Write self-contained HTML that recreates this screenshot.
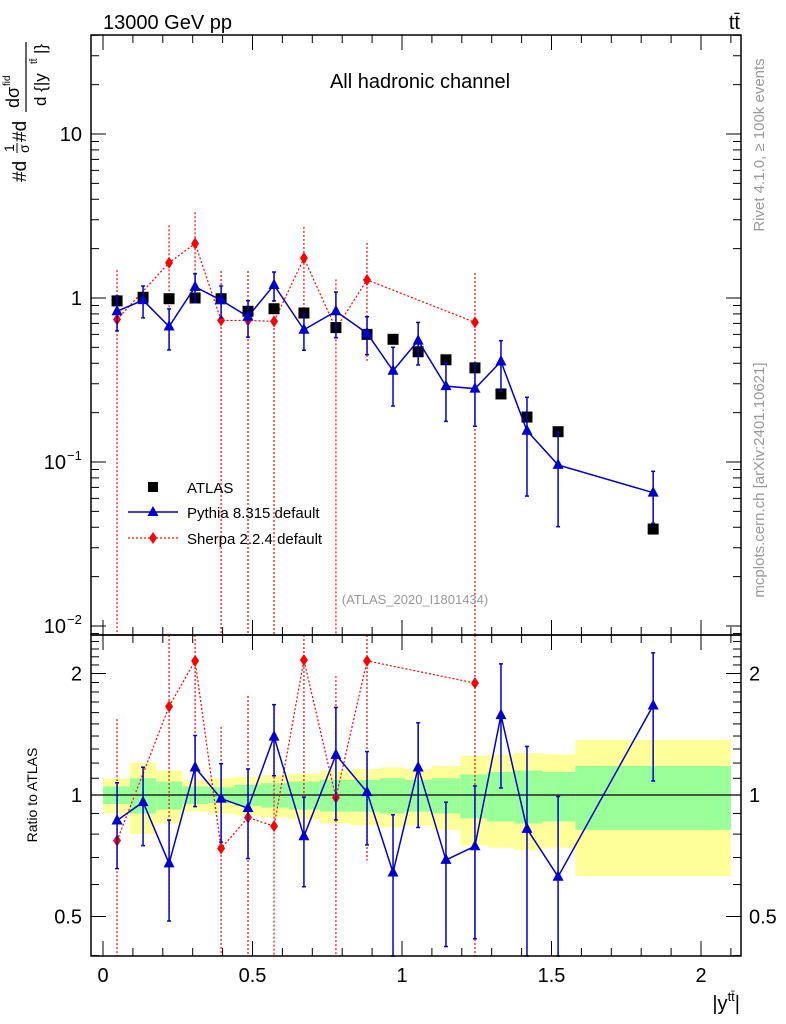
<!DOCTYPE html>
<html><head><meta charset="utf-8"><style>
html,body{margin:0;padding:0;background:#fff;}
svg{display:block;font-family:"Liberation Sans",sans-serif;}
</style></head><body>
<svg id="c" width="786" height="1024" viewBox="0 0 786 1024" xmlns="http://www.w3.org/2000/svg">
<g id="bands"></g>
<g id="marks"></g>
<g id="axes"></g>
<text x="103" y="29" font-size="20">13000 GeV pp</text>
<text x="740" y="29" font-size="20" text-anchor="end">tt̄</text>
<text x="420" y="88" font-size="20" text-anchor="middle">All hadronic channel</text>
<text x="415" y="604" font-size="13" fill="#999" text-anchor="middle">(ATLAS_2020_I1801434)</text>
<text transform="translate(764,145) rotate(-90)" font-size="15" fill="#999" text-anchor="middle">Rivet 4.1.0, ≥ 100k events</text>
<text transform="translate(764,480) rotate(-90)" font-size="15" fill="#999" text-anchor="middle">mcplots.cern.ch [arXiv:2401.10621]</text>
<g transform="translate(0,182) rotate(-90)">
<text x="0" y="26" font-size="19">#d</text>
<text x="30" y="14" font-size="14">1</text>
<line x1="29" y1="17" x2="39" y2="17" stroke="#000" stroke-width="1"/>
<text x="29" y="29" font-size="14">σ</text>
<text x="40" y="26" font-size="19">#d</text>
<text x="74" y="19" font-size="18">dσ</text>
<text x="96" y="10" font-size="10">fid</text>
<line x1="70" y1="26" x2="140" y2="26" stroke="#000" stroke-width="1.2"/>
<text x="76" y="46" font-size="17">d {|y</text>
<text x="118" y="37" font-size="10">tt̄</text>
<text x="128" y="46" font-size="17">|}</text>
</g>
<text transform="translate(37,795) rotate(-90)" font-size="14" text-anchor="middle">Ratio to ATLAS</text>
<text x="740" y="1010" font-size="20" text-anchor="end">|y<tspan font-size="13" dy="-9">tt̄</tspan><tspan dy="9">|</tspan></text>
<g>
<rect x="148" y="482" width="10" height="10" fill="#000"/>
<text x="187" y="493" font-size="15">ATLAS</text>
<line x1="128" y1="512" x2="178" y2="512" stroke="#00c" stroke-width="1.5"/>
<polygon points="153,506 147.5,516 158.5,516" fill="#00c"/>
<text x="187" y="518" font-size="15">Pythia 8.315 default</text>
<line x1="128" y1="538" x2="178" y2="538" stroke="#f00" stroke-width="1.2" stroke-dasharray="2,2"/>
<polygon points="153,532 157,538 153,544 149,538" fill="#f00"/>
<text x="187" y="544" font-size="15">Sherpa 2.2.4 default</text>
</g>
</svg>
<script>
const binEdges=[0,0.09,0.178,0.265,0.352,0.44,0.53,0.62,0.725,0.83,0.925,1.01,1.10,1.195,1.285,1.375,1.47,1.58,2.1];
const atlasX=[0.047,0.134,0.221,0.308,0.395,0.485,0.572,0.672,0.779,0.883,0.970,1.054,1.147,1.244,1.331,1.418,1.522,1.84];
const atlasY=[0.96,1.01,0.99,1.0,0.99,0.83,0.86,0.81,0.66,0.60,0.56,0.47,0.42,0.375,0.26,0.188,0.153,0.039];
const bandYellow=[0.10,0.20,0.15,0.09,0.10,0.11,0.12,0.13,0.15,0.16,0.17,0.16,0.18,0.25,0.26,0.27,0.26,0.37];
const bandGreen=[0.05,0.10,0.08,0.05,0.045,0.06,0.07,0.08,0.09,0.09,0.10,0.09,0.10,0.125,0.14,0.15,0.14,0.18];
const pythiaY=[0.83,0.97,0.67,1.17,0.97,0.77,1.2,0.64,0.83,0.61,0.36,0.55,0.29,0.28,0.41,0.155,0.096,0.065];
const pythiaErr=[0.24,0.22,0.28,0.20,0.22,0.25,0.20,0.25,0.31,0.26,0.39,0.29,0.39,0.41,0.34,0.6,0.58,0.35];
const sherpaIdx=[0,2,3,4,5,6,7,8,9,13];
const sherpaY=[0.74,1.64,2.15,0.73,0.73,0.72,1.75,0.65,1.29,0.71];
const sherpaErr=[1.0,0.69,0.55,1.0,1.0,1.0,0.55,1.0,0.68,1.0];
const xTicks=[0,0.5,1,1.5,2];
const xTickLabels=["0","0.5","1","1.5","2"];
const mainTicks=[10,1,0.1,0.01];
const mainTickLabels=["10","1","10","10"];
const mainTickSup=["","","−1","−2"];
const ratioTicks=[2,1,0.5];
const ratioTickLabels=["2","1","0.5"];

const NS="http://www.w3.org/2000/svg";
const L=91,R=741,MT=35,MB=635,RT=635,RB=956;
const sx=v=>103+299*v;
const sy=v=>298-164*Math.log10(v);
const ry=v=>795-121.5*Math.log2(v);
const cm=v=>Math.min(Math.max(v,MT),MB), cr=v=>Math.min(Math.max(v,RT),RB);
function mk(p,t,a){const e=document.createElementNS(NS,t);for(const k in a)e.setAttribute(k,a[k]);p.appendChild(e);return e;}
const B=document.getElementById('bands'),M=document.getElementById('marks'),A=document.getElementById('axes');

for(let i=0;i<atlasX.length;i++){
 const x1=sx(binEdges[i]),x2=sx(binEdges[i+1]);
 let r=mk(B,'rect',{x:x1,y:ry(1+bandYellow[i]),width:x2-x1,height:ry(1-bandYellow[i])-ry(1+bandYellow[i]),fill:'#ffff99'});
 
 
 let g=mk(B,'rect',{x:x1,y:ry(1+bandGreen[i]),width:x2-x1,height:ry(1-bandGreen[i])-ry(1+bandGreen[i]),fill:'#99ff99'});
 
 
}
mk(B,'line',{x1:L,y1:ry(1),x2:R,y2:ry(1),stroke:'#000','stroke-width':1.2});

function tri(x,y){return `${x},${y-6.5} ${x-5.5},${y+4} ${x+5.5},${y+4}`;}
function dia(x,y){return `${x-4},${y} ${x},${y-6} ${x+4},${y} ${x},${y+6}`;}

function sherpa(fy,clip,ratio){
 const pts=sherpaIdx.map((k,j)=>[sx(atlasX[k]),fy(ratio?sherpaY[j]/atlasY[k]:sherpaY[j])]);
 mk(M,'polyline',{points:pts.map(p=>p.join(',')).join(' '),fill:'none',stroke:'#f00','stroke-width':1.2,'stroke-dasharray':'2,2'});
 sherpaIdx.forEach((k,j)=>{
  const c=ratio?sherpaY[j]/atlasY[k]:sherpaY[j];
  const up=clip(fy(c*(1+sherpaErr[j]))), lo=sherpaErr[j]>=0.999?clip(9999):clip(fy(c*(1-sherpaErr[j])));
  const x=sx(atlasX[k]);
  mk(M,'line',{x1:x,y1:up,x2:x,y2:lo,stroke:'#f00','stroke-width':1.2,'stroke-dasharray':'2,2'});
  const p=mk(M,'polygon',{points:dia(x,fy(c)),fill:'#f00'});
  
  
 });
}
sherpa(sy,cm,false);sherpa(ry,cr,true);

atlasX.forEach((x,i)=>{
 const r=mk(M,'rect',{x:sx(x)-5.5,y:sy(atlasY[i])-5.5,width:11,height:11,fill:'#000'});
 
 
});

function pythia(fy,clip,ratio){
 const vals=pythiaY.map((v,i)=>ratio?v/atlasY[i]:v);
 mk(M,'polyline',{points:atlasX.map((x,i)=>sx(x)+','+fy(vals[i])).join(' '),fill:'none',stroke:'#00c','stroke-width':1.5});
 atlasX.forEach((x,i)=>{
  const X=sx(x),up=clip(fy(vals[i]*(1+pythiaErr[i]))),lo=clip(fy(vals[i]*(1-pythiaErr[i])));
  mk(M,'line',{x1:X,y1:up,x2:X,y2:lo,stroke:'#00c','stroke-width':1.5});
  mk(M,'line',{x1:X-2,y1:up,x2:X+2,y2:up,stroke:'#00c','stroke-width':1.5});
  mk(M,'line',{x1:X-2,y1:lo,x2:X+2,y2:lo,stroke:'#00c','stroke-width':1.5});
  const p=mk(M,'polygon',{points:tri(X,fy(vals[i])),fill:'#00c'});
  
  
 });
}
pythia(sy,cm,false);pythia(ry,cr,true);

mk(A,'rect',{x:L,y:MT,width:R-L,height:MB-MT,fill:'none',stroke:'#000','stroke-width':1.5});
mk(A,'rect',{x:L,y:RT,width:R-L,height:RB-RT,fill:'none',stroke:'#000','stroke-width':1.5});
for(let k=0;k<=21;k++){
 const v=k/10,x=sx(v),len=(k%5==0)?15:8;
 [[MT,1],[MB,-1],[RT,1],[RB,-1]].forEach(([y,d])=>mk(A,'line',{x1:x,y1:y,x2:x,y2:y+d*len,stroke:'#000','stroke-width':1}));
}
xTicks.forEach((v,i)=>{const t=mk(A,'text',{x:sx(v),y:982,'font-size':20,'text-anchor':'middle'});t.textContent=xTickLabels[i];
 
 });
for(let e=-3;e<=1;e++)for(let m=1;m<=9;m++){
 const v=m*Math.pow(10,e),y=sy(v);if(y<MT||y>MB)continue;
 const len=m==1?15:8;
 mk(A,'line',{x1:L,y1:y,x2:L+len,y2:y,stroke:'#000'});
 mk(A,'line',{x1:R,y1:y,x2:R-len,y2:y,stroke:'#000'});
}
mainTicks.forEach((v,i)=>{const t=mk(A,'text',{x:mainTickSup[i]?66:82,y:sy(v)+7,'font-size':20,'text-anchor':'end'});t.textContent=mainTickLabels[i];
 
 
 if(mainTickSup[i]){const s=mk(A,'text',{x:67,y:sy(v)-2,'font-size':13});s.textContent=mainTickSup[i];}});
[0.4,0.5,0.6,0.7,0.8,0.9,1,1.1,1.2,1.3,1.4,1.5,1.6,1.7,1.8,1.9,2,2.1,2.2,2.3,2.4].forEach(v=>{
 const y=ry(v);if(y<RT||y>RB)return;const len=(v==0.5||v==1||v==2)?15:8;
 mk(A,'line',{x1:L,y1:y,x2:L+len,y2:y,stroke:'#000'});
 mk(A,'line',{x1:R,y1:y,x2:R-len,y2:y,stroke:'#000'});
});
ratioTicks.forEach((v,i)=>{
 const t=mk(A,'text',{x:82,y:ry(v)+7,'font-size':20,'text-anchor':'end'});t.textContent=ratioTickLabels[i];
 
 
 const t2=mk(A,'text',{x:749,y:ry(v)+7,'font-size':20});t2.textContent=ratioTickLabels[i];
 
 
});
</script>
</body></html>
